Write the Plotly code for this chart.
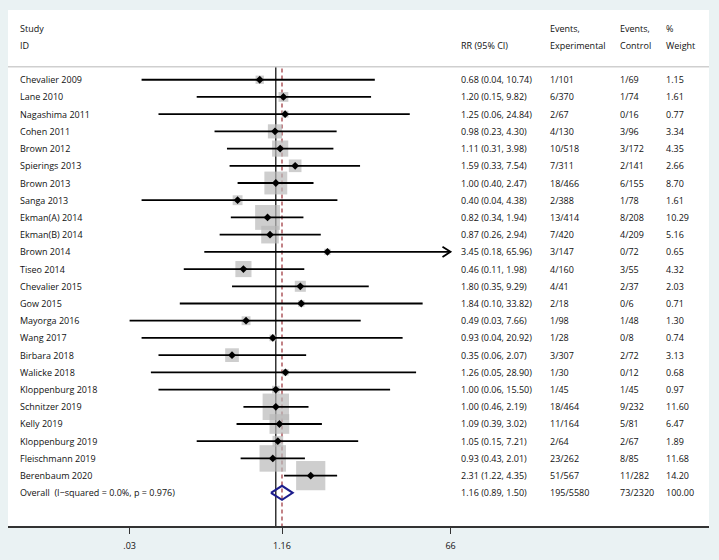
import math
import plotly.graph_objects as go

studies = ["Chevalier 2009", "Lane 2010", "Nagashima 2011", "Cohen 2011", "Brown 2012",
           "Spierings 2013", "Brown 2013", "Sanga 2013", "Ekman(A) 2014", "Ekman(B) 2014",
           "Brown 2014", "Tiseo 2014", "Chevalier 2015", "Gow 2015", "Mayorga 2016",
           "Wang 2017", "Birbara 2018", "Walicke 2018", "Kloppenburg 2018", "Schnitzer 2019",
           "Kelly 2019", "Kloppenburg 2019", "Fleischmann 2019", "Berenbaum 2020"]
rr = [0.68, 1.20, 1.25, 0.98, 1.11, 1.59, 1.00, 0.40, 0.82, 0.87, 3.45, 0.46, 1.80, 1.84,
      0.49, 0.93, 0.35, 1.26, 1.00, 1.00, 1.09, 1.05, 0.93, 2.31]
lo = [0.04, 0.15, 0.06, 0.23, 0.31, 0.33, 0.40, 0.04, 0.34, 0.26, 0.18, 0.11, 0.35, 0.10,
      0.03, 0.04, 0.06, 0.05, 0.06, 0.46, 0.39, 0.15, 0.43, 1.22]
hi = [10.74, 9.82, 24.84, 4.30, 3.98, 7.54, 2.47, 4.38, 1.94, 2.94, 65.96, 1.98, 9.29, 33.82,
      7.66, 20.92, 2.07, 28.90, 15.50, 2.19, 3.02, 7.21, 2.01, 4.35]
ev_exp = ["1/101", "6/370", "2/67", "4/130", "10/518", "7/311", "18/466", "2/388", "13/414",
          "7/420", "3/147", "4/160", "4/41", "2/18", "1/98", "1/28", "3/307", "1/30", "1/45",
          "18/464", "11/164", "2/64", "23/262", "51/567"]
ev_ctl = ["1/69", "1/74", "0/16", "3/96", "3/172", "2/141", "6/155", "1/78", "8/208", "4/209",
          "0/72", "3/55", "2/37", "0/6", "1/48", "0/8", "2/72", "0/12", "1/45", "9/232",
          "5/81", "2/67", "8/85", "11/282"]
weight = [1.15, 1.61, 0.77, 3.34, 4.35, 2.66, 8.70, 1.61, 10.29, 5.16, 0.65, 4.32, 2.03, 0.71,
          1.30, 0.74, 3.13, 0.68, 0.97, 11.60, 6.47, 1.89, 11.68, 14.20]

overall_label = "Overall  (I\u2212squared = 0.0%, p = 0.976)"
overall_rr, overall_lo, overall_hi = 1.16, 0.89, 1.50
overall_exp, overall_ctl, overall_w = "195/5580", "73/2320", 100.00

tick_vals = [0.03, 1.16, 66]
tick_text = [".03", "1.16", "66"]
arrow_clip = 66  # CI truncated at axis max

FONT = "Open Sans"
TXT = "#111111"
n = len(studies)
rows = list(range(n))
overall_row = n

fig = go.Figure()

# reference lines (behind boxes)
fig.add_trace(go.Scatter(x=[1, 1], y=[-0.75, 27], mode="lines",
                         line=dict(color="black", width=1.2), hoverinfo="skip"))
fig.add_trace(go.Scatter(x=[overall_rr, overall_rr], y=[-0.65, 27], mode="lines",
                         line=dict(color="#9b2f36", width=1.2, dash="4px,3px"), hoverinfo="skip"))

# weight boxes
fig.add_trace(go.Scatter(x=rr, y=rows, mode="markers",
                         marker=dict(symbol="square", color="#b9b9b9",
                                     size=[7.75 * math.sqrt(w) for w in weight],
                                     line=dict(width=0)),
                         hoverinfo="skip"))

# CI lines
cx, cy = [], []
for i in range(n):
    cx += [lo[i], min(hi[i], arrow_clip), None]
    cy += [i, i, None]
fig.add_trace(go.Scatter(x=cx, y=cy, mode="lines", line=dict(color="black", width=1.8),
                         hoverinfo="skip"))

# arrowheads for truncated CIs (open chevron)
ax_, ay_ = [], []
f = math.exp(8 / 41.7)
for i in range(n):
    if hi[i] >= arrow_clip * 0.99:
        tip = min(hi[i], arrow_clip)
        ax_ += [tip / f, tip, tip / f, None]
        ay_ += [i - 0.3, i, i + 0.3, None]
fig.add_trace(go.Scatter(x=ax_, y=ay_, mode="lines", line=dict(color="black", width=1.8),
                         hoverinfo="skip"))

# point estimates
fig.add_trace(go.Scatter(x=rr, y=rows, mode="markers",
                         marker=dict(symbol="diamond", color="black", size=6, line=dict(width=0)),
                         hoverinfo="skip"))

# overall diamond
h = 0.41
fig.add_trace(go.Scatter(x=[overall_lo, overall_rr, overall_hi, overall_rr, overall_lo],
                         y=[overall_row, overall_row - h, overall_row, overall_row + h, overall_row],
                         mode="lines", line=dict(color="#1c1c8c", width=2), hoverinfo="skip"))

# text columns
L, R, W = 8, 10, 719
pw = W - L - R
def px(xp):
    return (xp - L) / pw

col_study = px(17.5)
col_rr = px(459)
col_exp = px(547.5)
col_ctl = px(617.5)
col_w = px(663.5)

ann = []
def add(x, y, t):
    ann.append(dict(x=x, y=y, xref="paper", yref="y", text=t, showarrow=False,
                    xanchor="left", yanchor="middle", font=dict(family=FONT, size=9, color=TXT)))

add(col_study, -3, "Study")
add(col_study, -2, "ID")
add(col_rr, -2, "RR (95% CI)")
add(col_exp, -3, "Events,")
add(col_exp, -2, "Experimental")
add(col_ctl, -3, "Events,")
add(col_ctl, -2, "Control")
add(col_w, -3, "%")
add(col_w, -2, "Weight")

for i in range(n):
    add(col_study, i, studies[i])
    add(col_rr, i, f"{rr[i]:.2f} ({lo[i]:.2f}, {hi[i]:.2f})")
    add(col_exp, i, ev_exp[i])
    add(col_ctl, i, ev_ctl[i])
    add(col_w, i, f"{weight[i]:.2f}")

add(col_study, overall_row, overall_label)
add(col_rr, overall_row, f"{overall_rr:.2f} ({overall_lo:.2f}, {overall_hi:.2f})")
add(col_exp, overall_row, overall_exp)
add(col_ctl, overall_row, overall_ctl)
add(col_w, overall_row, f"{overall_w:.2f}")

# header separator
shapes = [dict(type="line", xref="paper", yref="y", x0=0, x1=1, y0=-0.75, y1=-0.75,
               line=dict(color="#cfcfcf", width=1.5))]

ppl = 41.7 * math.log(10)  # px per log10 unit
x_left = math.log10(overall_rr) - (282 - L) / ppl
x_right = x_left + pw / ppl

fig.update_layout(
    width=719, height=560,
    margin=dict(l=L, r=R, t=10, b=32, pad=0),
    paper_bgcolor="#eaf2f3", plot_bgcolor="white",
    showlegend=False,
    annotations=ann, shapes=shapes,
    font=dict(family=FONT, size=9, color=TXT),
    xaxis=dict(type="log", range=[x_left, x_right], showgrid=False, zeroline=False,
               showline=True, linecolor="#333333", linewidth=1.6,
               ticks="outside", ticklen=6, tickwidth=1.4, tickcolor="#333333",
               tickvals=tick_vals, ticktext=tick_text, ticklabelstandoff=4,
               tickfont=dict(family=FONT, size=9, color=TXT), fixedrange=True),
    yaxis=dict(range=[25.926, -4.051], showgrid=False, zeroline=False, showline=False,
               showticklabels=False, ticks="", fixedrange=True),
)

fig.write_html("out.html", config={"displayModeBar": False},
               post_script="document.body.style.margin='0px';document.body.style.overflow='hidden';")
